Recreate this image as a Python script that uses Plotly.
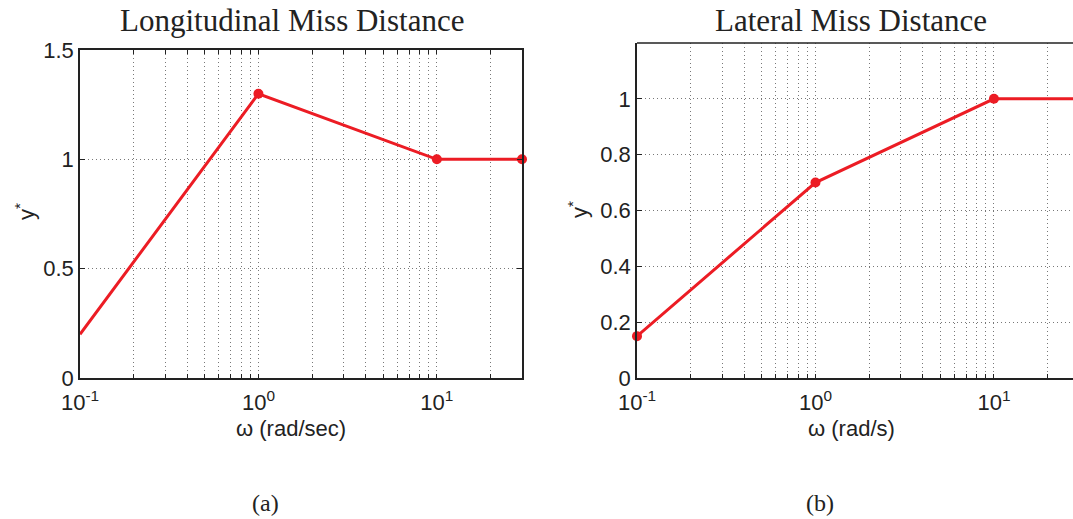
import math
import plotly.graph_objects as go

# Frequency points (rad/s) and normalized miss-distance weights
omega_long = [0.1, 1.0, 10.0, 30.0]
y_long = [0.2, 1.3, 1.0, 1.0]
omega_lat = [0.1, 1.0, 10.0, 30.0]
y_lat = [0.15, 0.7, 1.0, 1.0]

x_tickvals = [m * 10.0 ** e for e in (-1, 0, 1) for m in range(1, 10)] + [20.0, 30.0]
x_ticktext = ["10<sup>-1</sup>" if v == 0.1 else "10<sup>0</sup>" if v == 1.0
              else "10<sup>1</sup>" if v == 10.0 else " " for v in x_tickvals]

long_yticks = [0, 0.5, 1, 1.5]
lat_yticks = [0, 0.2, 0.4, 0.6, 0.8, 1]

W, H = 1073, 519
RED = "rgb(236,28,36)"
GRID = "rgb(120,120,120)"
INK = "#222"
TICKFONT = dict(family="Liberation Sans, Arial, sans-serif", size=22, color=INK)
SERIF = "Liberation Serif, Times New Roman, serif"


def px_x(p):
    return p / W


def px_y(p):
    return (H - p) / H


fig = go.Figure()
# longitudinal: line through all points, markers from the second point on
fig.add_trace(go.Scatter(
    x=omega_long, y=y_long, mode="lines", xaxis="x", yaxis="y",
    line=dict(color=RED, width=3), cliponaxis=False, showlegend=False))
fig.add_trace(go.Scatter(
    x=omega_long[1:], y=y_long[1:], mode="markers", xaxis="x", yaxis="y",
    marker=dict(color=RED, size=10), cliponaxis=False, showlegend=False))
# lateral
fig.add_trace(go.Scatter(
    x=omega_lat, y=y_lat, mode="lines+markers", xaxis="x2", yaxis="y2",
    line=dict(color=RED, width=3), marker=dict(color=RED, size=10),
    cliponaxis=False, showlegend=False))

common_x = dict(
    type="log", tickmode="array", tickvals=x_tickvals, ticktext=x_ticktext,
    tickangle=0, ticklabelstandoff=4,
    showgrid=True, gridcolor=GRID, griddash="1px,3px", gridwidth=1,
    ticks="inside", ticklen=4, tickcolor=INK, tickfont=TICKFONT,
    showline=True, linecolor=INK, linewidth=1.5, zeroline=False,
    automargin=False,
)
common_y = dict(
    showgrid=True, gridcolor=GRID, griddash="1px,3px", gridwidth=1,
    ticks="inside", ticklen=5, tickcolor=INK, tickfont=TICKFONT,
    showline=True, linecolor=INK, linewidth=1.5, zeroline=False,
    automargin=False,
)


def label(text, x, y, size, family=TICKFONT["family"], angle=0):
    return dict(text=text, x=px_x(x), y=px_y(y), xref="paper", yref="paper",
                xanchor="center", yanchor="middle", showarrow=False,
                textangle=angle, font=dict(family=family, size=size, color=INK))


fig.update_layout(
    width=W, height=H,
    margin=dict(l=0, r=0, t=0, b=0, autoexpand=False),
    paper_bgcolor="white", plot_bgcolor="white",
    xaxis=dict(common_x, domain=[px_x(80), px_x(522)],
               range=[-1, math.log10(30)], anchor="y", mirror="ticks"),
    yaxis=dict(common_y, domain=[px_y(378), px_y(50)], range=[0, 1.5],
               tickvals=long_yticks, ticktext=["0", "0.5", "1", "1.5"],
               anchor="x", mirror="ticks"),
    xaxis2=dict(common_x, domain=[px_x(637), 1.0], range=[-1, 1.443],
                anchor="y2", mirror=False),
    yaxis2=dict(common_y, domain=[px_y(378), px_y(43)], range=[0, 1.2],
                tickvals=lat_yticks, ticktext=["0", "0.2", "0.4", "0.6", "0.8", "1"],
                anchor="x2", mirror=False),
    shapes=[dict(type="line", xref="paper", yref="paper",
                 x0=px_x(637), x1=1.0, y0=px_y(43), y1=px_y(43),
                 line=dict(color=INK, width=1.5))],
    annotations=[
        label("Longitudinal Miss Distance", 292, 20, 31, SERIF),
        label("Lateral Miss Distance", 851, 20, 31, SERIF),
        label("ω (rad/sec)", 291, 428, 22),
        label("ω (rad/s)", 851, 428, 22),
        label("y<sup>*</sup>", 25, 212, 22, angle=-90),
        label("y<sup>*</sup>", 578, 210, 22, angle=-90),
        label("(a)", 265, 503, 24, SERIF),
        label("(b)", 820, 503, 24, SERIF),
    ],
)

fig.write_html("out.html")
